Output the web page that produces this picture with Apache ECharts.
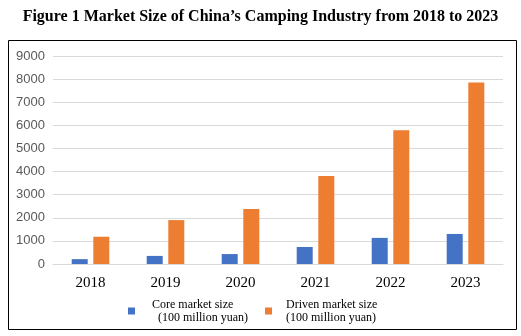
<!DOCTYPE html>
<html><head><meta charset="utf-8">
<script src="https://cdn.jsdelivr.net/npm/echarts@6/dist/echarts.min.js"></script>
<style>html,body{margin:0;padding:0;background:#fff;}#c{width:521px;height:336px;}</style>
</head><body><div id="c"></div>
<script>
const years = ['2018','2019','2020','2021','2022','2023'];
const coreSize = [210, 350, 430, 735, 1130, 1300];
const drivenSize = [1180, 1900, 2385, 3810, 5790, 7855];
const yTicks = {min: 0, max: 9000, interval: 1000};
const seriesNames = ['Core market size\n  (100 million yuan)', 'Driven market size\n(100 million yuan)'];

const legendText = {fontFamily: 'Liberation Serif', fontSize: 12, color: '#000', lineHeight: 13};
const chart = echarts.init(document.getElementById('c'), null, {renderer: 'canvas'});
chart.setOption({
  animation: false,
  backgroundColor: '#fff',
  title: {
    text: 'Figure 1 Market Size of China\u2019s Camping Industry from 2018 to 2023',
    left: 'center', top: 4,
    textStyle: {fontFamily: 'Liberation Serif', fontWeight: 'bold', fontSize: 16, color: '#000'}
  },
  graphic: [{
    type: 'rect', shape: {x: 8.5, y: 40.5, width: 508, height: 289},
    style: {fill: 'none', stroke: '#000', lineWidth: 1}, silent: true, z: -1
  }],
  grid: {left: 53, right: 18, top: 56, bottom: 72, containLabel: false},
  legend: [{
    left: 123, top: 293, padding: 5, itemWidth: 7, itemHeight: 7, icon: 'rect',
    textStyle: Object.assign({padding: [0, 0, 0, 12]}, legendText),
    data: [seriesNames[0]]
  }, {
    left: 260, top: 293, padding: 5, itemWidth: 7, itemHeight: 7, icon: 'rect',
    textStyle: Object.assign({padding: [0, 0, 0, 9]}, legendText),
    data: [seriesNames[1]]
  }],
  xAxis: {
    type: 'category', data: years,
    axisLine: {lineStyle: {color: '#d9d9d9'}},
    axisTick: {show: false},
    axisLabel: {fontFamily: 'Liberation Serif', fontSize: 15, color: '#000', margin: 12}
  },
  yAxis: {
    type: 'value', min: yTicks.min, max: yTicks.max, interval: yTicks.interval,
    axisLine: {show: false}, axisTick: {show: false},
    splitLine: {lineStyle: {color: '#d9d9d9'}},
    axisLabel: {fontFamily: 'Liberation Sans', fontSize: 13, color: '#595959', margin: 8,
      formatter: v => String(v)}
  },
  series: [
    {name: seriesNames[0], type: 'bar', data: coreSize, barWidth: 16, barGap: '35%', itemStyle: {color: '#4472c4'}},
    {name: seriesNames[1], type: 'bar', data: drivenSize, barWidth: 16, barGap: '35%', itemStyle: {color: '#ed7d31'}}
  ]
});
</script></body></html>
